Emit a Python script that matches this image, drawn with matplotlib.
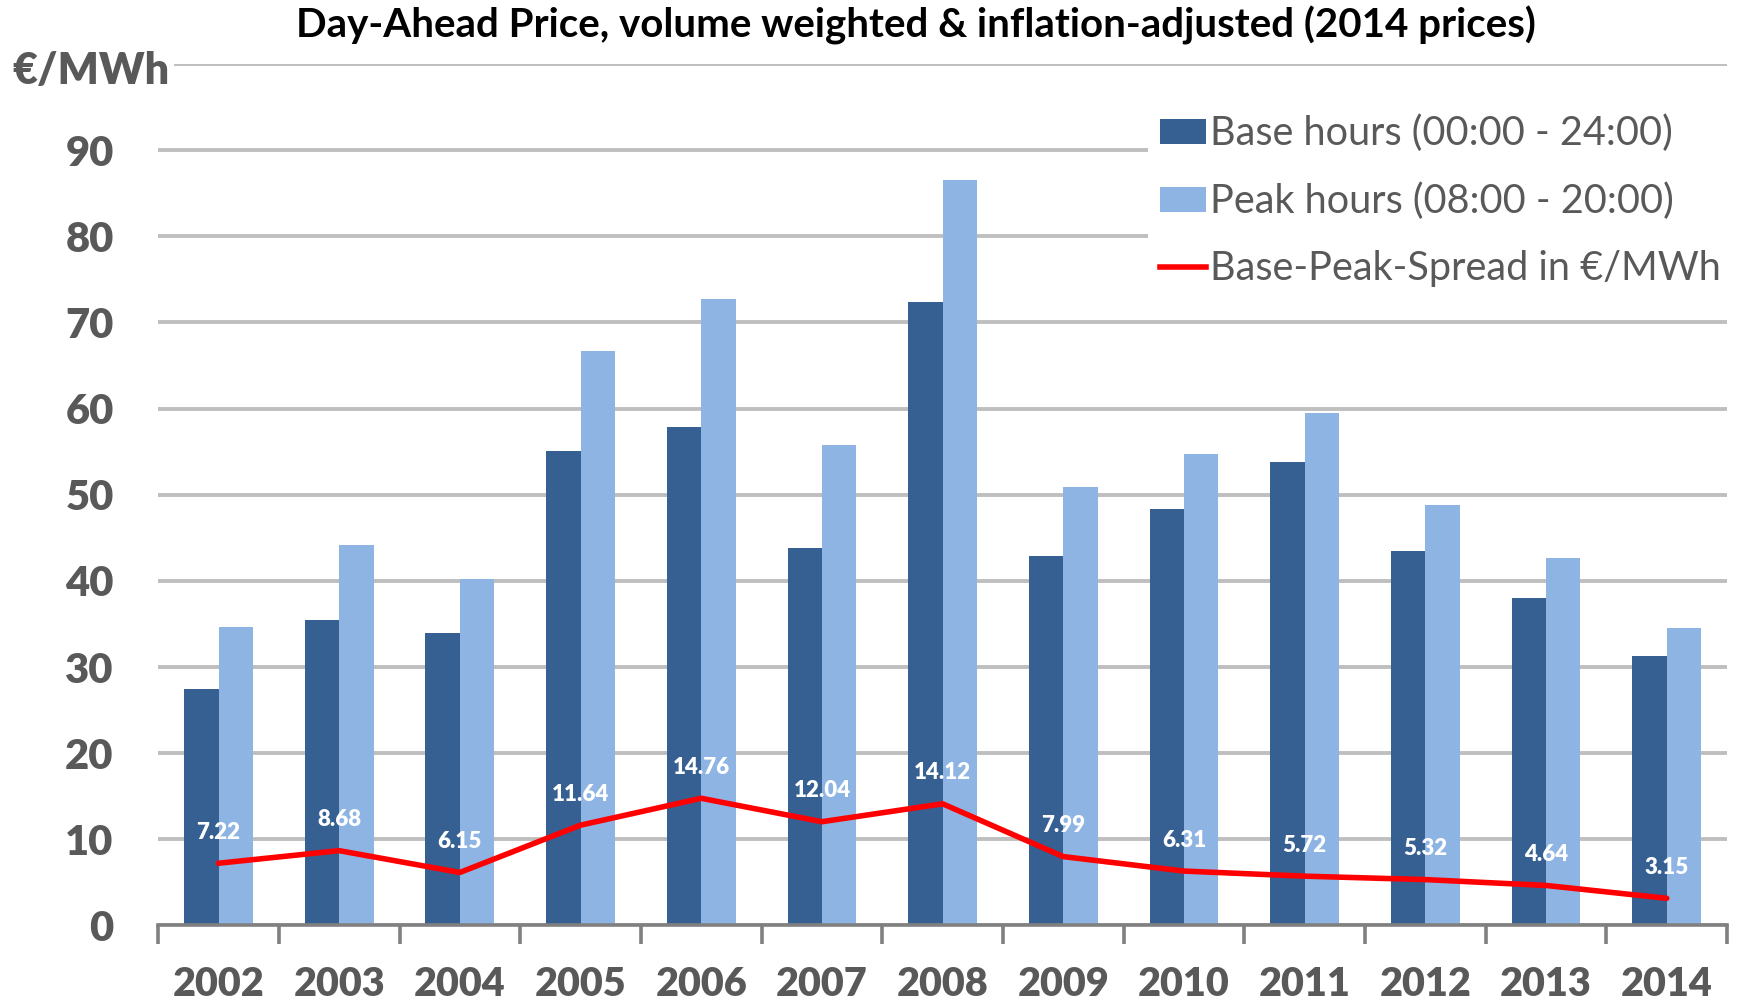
import matplotlib.pyplot as plt
import numpy as np
from matplotlib.lines import Line2D
from matplotlib.patches import Patch

years = ["2002", "2003", "2004", "2005", "2006", "2007", "2008",
         "2009", "2010", "2011", "2012", "2013", "2014"]
base = [27.4, 35.5, 34.0, 55.1, 57.9, 43.8, 72.4, 42.9, 48.4, 53.8, 43.5, 38.0, 31.3]
peak = [34.6, 44.2, 40.2, 66.7, 72.7, 55.8, 86.5, 50.9, 54.7, 59.5, 48.8, 42.6, 34.5]
spread = [7.22, 8.68, 6.15, 11.64, 14.76, 12.04, 14.12, 7.99, 6.31, 5.72, 5.32, 4.64, 3.15]

BASE_C = "#376092"
PEAK_C = "#8EB4E3"
GRID_C = "#BFBFBF"
TEXT_C = "#595959"

plt.rcParams["font.family"] = ["Lato", "DejaVu Sans"]

fig = plt.figure(figsize=(17.38, 10.01), dpi=100)
ax = fig.add_axes([0.091, 0.0755, 0.9027, 0.8605])

x = np.arange(len(years))
w = 0.285
ax.bar(x - w / 2, base, w, color=BASE_C, zorder=2)
ax.bar(x + w / 2, peak, w, color=PEAK_C, zorder=2)
ax.plot(x, spread, color="#FF0000", lw=4, zorder=3, solid_capstyle="round")
for xi, v in zip(x, spread):
    ax.text(xi, v + 3.6, f"{v:.2f}", ha="center", va="center", color="white",
            fontsize=16, fontweight="heavy", zorder=4)

ax.set_xlim(-0.5, len(years) - 0.5)
ax.set_ylim(0, 100)
ax.set_yticks(np.arange(0, 101, 10))
ax.set_yticklabels([str(v) for v in range(0, 91, 10)] + [""])
ax.yaxis.grid(True, color=GRID_C, lw=2.8, zorder=0)
ax.set_axisbelow(True)
ax.tick_params(axis="y", length=0, pad=32, labelsize=30, labelcolor=TEXT_C)
for lab in ax.get_yticklabels():
    lab.set_fontweight("heavy")

ax.set_xticks(np.arange(-0.5, len(years), 1.0))
ax.set_xticklabels([])
ax.tick_params(axis="x", which="major", length=14, width=2.6, color="#808080", direction="out")
ax.set_xticks(x, minor=True)
ax.set_xticklabels(years, minor=True)
ax.tick_params(axis="x", which="minor", length=0, pad=29, labelsize=28.5, labelcolor=TEXT_C)
for lab in ax.get_xticklabels(minor=True):
    lab.set_fontweight("heavy")

for sp in ("top", "right", "left"):
    ax.spines[sp].set_visible(False)
ax.spines["bottom"].set_color("#808080")
ax.spines["bottom"].set_linewidth(2.6)

fig.text(0.007, 1 - 71 / 1001, "€/MWh", ha="left", va="center", fontsize=31,
         fontweight="heavy", color=TEXT_C,
         bbox=dict(facecolor="white", edgecolor="none", pad=3))

fig.text(0.527, 1 - 25 / 1001, "Day-Ahead Price, volume weighted & inflation-adjusted (2014 prices)",
         ha="center", va="center", fontsize=29, fontweight="bold", color="black")

handles = [Patch(facecolor=BASE_C, label="Base hours (00:00 - 24:00)"),
           Patch(facecolor=PEAK_C, label="Peak hours (08:00 - 20:00)"),
           Line2D([0], [0], color="#FF0000", lw=4, label="Base-Peak-Spread in €/MWh")]
leg = ax.legend(handles=handles, loc="upper right", bbox_to_anchor=(1.016, 0.978),
                frameon=True, fancybox=False, framealpha=1, edgecolor="none",
                fontsize=28.5, handlelength=1.15, handleheight=0.6, handletextpad=0.1,
                labelspacing=0.76, borderpad=0.3, labelcolor=TEXT_C)

fig.savefig("out.png", dpi=100)
